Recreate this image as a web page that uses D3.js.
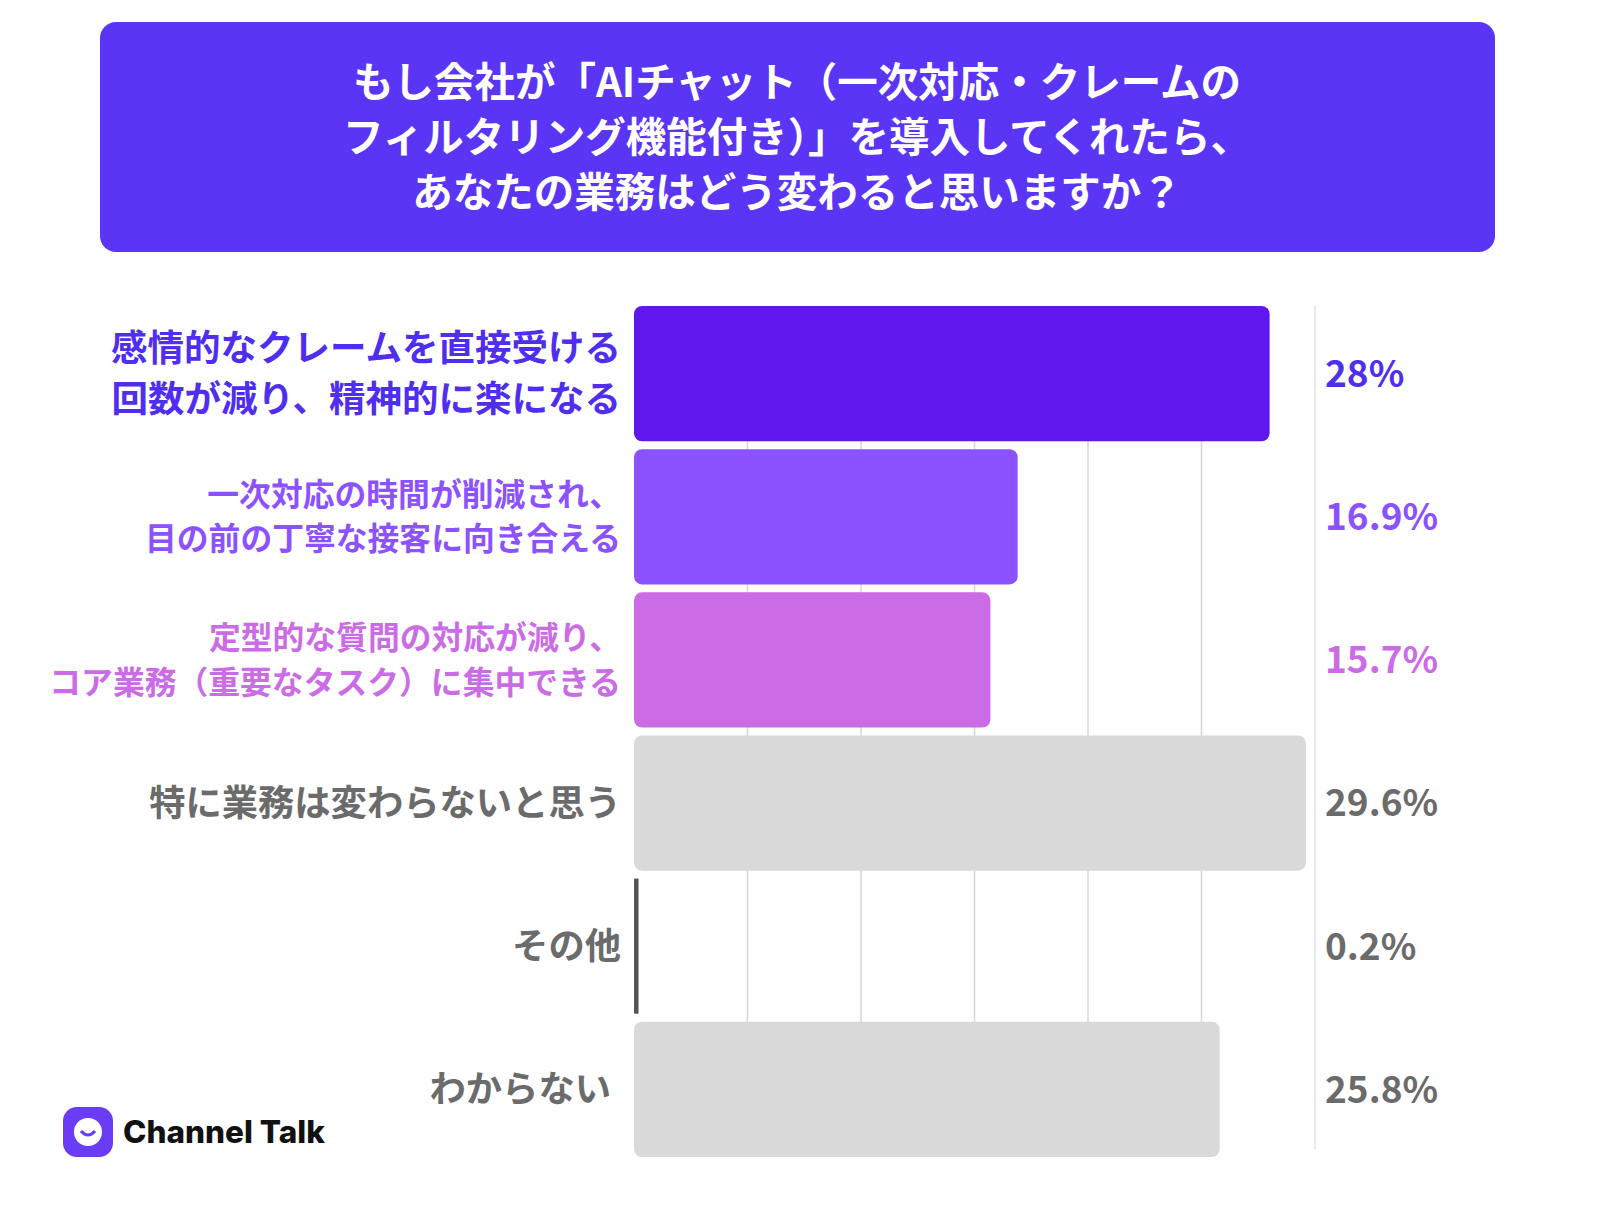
<!DOCTYPE html>
<html><head><meta charset="utf-8">
<script src="https://cdn.jsdelivr.net/npm/d3@7"></script>
<style>body{margin:0;background:#fff;font-family:"Noto Sans CJK JP",sans-serif;}</style>
</head><body><div id="chart"></div>
<script>
var svgWidth = 1616, svgHeight = 1230;
var data = [
  {label: ["感情的なクレームを直接受ける", "回数が減り、精神的に楽になる"], value: 28, pct: "28%", bar: "#5f17eb", text: "#4f2ef0", size: 36.5},
  {label: ["一次対応の時間が削減され、", "目の前の丁寧な接客に向き合える"], value: 16.9, pct: "16.9%", bar: "#8c52ff", text: "#8c52ff", size: 31.8},
  {label: ["定型的な質問の対応が減り、", "コア業務（重要なタスク）に集中できる"], value: 15.7, pct: "15.7%", bar: "#cb6ce6", text: "#cb6ce6", size: 31.8},
  {label: ["特に業務は変わらないと思う"], value: 29.6, pct: "29.6%", bar: "#d9d9d9", text: "#6b6b6b", size: 36.3},
  {label: ["その他"], value: 0.2, pct: "0.2%", bar: "#555555", text: "#6b6b6b", size: 36.3},
  {label: ["わからない"], value: 25.8, pct: "25.8%", bar: "#d9d9d9", text: "#6b6b6b", size: 36.3}
];

var svg = d3.select("#chart").append("svg").attr("width", svgWidth).attr("height", svgHeight);

// title box
svg.append("rect").attr("x", 100).attr("y", 22).attr("width", 1395).attr("height", 230).attr("rx", 16).attr("fill", "#5a35f5");
["もし会社が「AIチャット（一次対応・クレームの", "フィルタリング機能付き）」を導入してくれたら、", "あなたの業務はどう変わると思いますか？"].forEach(function(t, i) {
  svg.append("text").attr("x", 797).attr("y", 97 + i * 55).attr("text-anchor", "middle")
    .attr("fill", "#fff").attr("font-size", 40.5).attr("font-weight", 700).text(t);
});

var x = d3.scaleLinear().domain([0, 30]).range([634, 1315]);
var y = d3.scaleBand().domain(d3.range(data.length)).range([306, 1157]).paddingInner(0.055).paddingOuter(0);

// grid
svg.selectAll(".grid").data([5, 10, 15, 20, 25]).enter().append("line")
  .attr("x1", d => x(d)).attr("x2", d => x(d)).attr("y1", 306).attr("y2", 1149)
  .attr("stroke", "#d6d6d6").attr("stroke-width", 1.5);
svg.append("line").attr("x1", x(30)).attr("x2", x(30)).attr("y1", 306).attr("y2", 1149)
  .attr("stroke", "#e3e3e3").attr("stroke-width", 1.5);

svg.selectAll(".bar").data(data).enter().append("rect")
  .attr("x", x(0)).attr("y", (d, i) => y(i))
  .attr("width", d => Math.max(3, x(d.value) - x(0))).attr("height", y.bandwidth())
  .attr("rx", d => d.value < 1 ? 1 : 8).attr("fill", d => d.bar);

data.forEach(function(d, i) {
  var cy = y(i) + y.bandwidth() / 2;
  var n = d.label.length, lh = d.size * 1.4;
  d.label.forEach(function(t, j) {
    svg.append("text").attr("x", i == 5 ? 611 : 621).attr("y", cy + (j - (n - 1) / 2) * lh)
      .attr("dy", "0.36em").attr("text-anchor", "end").attr("fill", d.text)
      .attr("font-size", d.size).attr("font-weight", 700).text(t);
  });
  svg.append("text").attr("x", 1325).attr("y", cy).attr("dy", "0.36em")
    .attr("fill", d.text).attr("font-size", 37).attr("font-weight", 700).text(d.pct);
});

// logo
svg.append("rect").attr("x", 63).attr("y", 1107).attr("width", 50).attr("height", 50).attr("rx", 14).attr("fill", "#6b3cf5");
svg.append("circle").attr("cx", 88).attr("cy", 1132).attr("r", 14).attr("fill", "#fff");
svg.append("path").attr("d", "M81,1131 Q88,1139 95,1131").attr("stroke", "#6b3cf5").attr("stroke-width", 3).attr("fill", "none");
svg.append("text").attr("x", 123).attr("y", 1143).attr("font-family", "Inter, sans-serif")
  .attr("font-size", 31.5).attr("font-weight", 800).attr("fill", "#111").text("Channel Talk");
</script></body></html>
